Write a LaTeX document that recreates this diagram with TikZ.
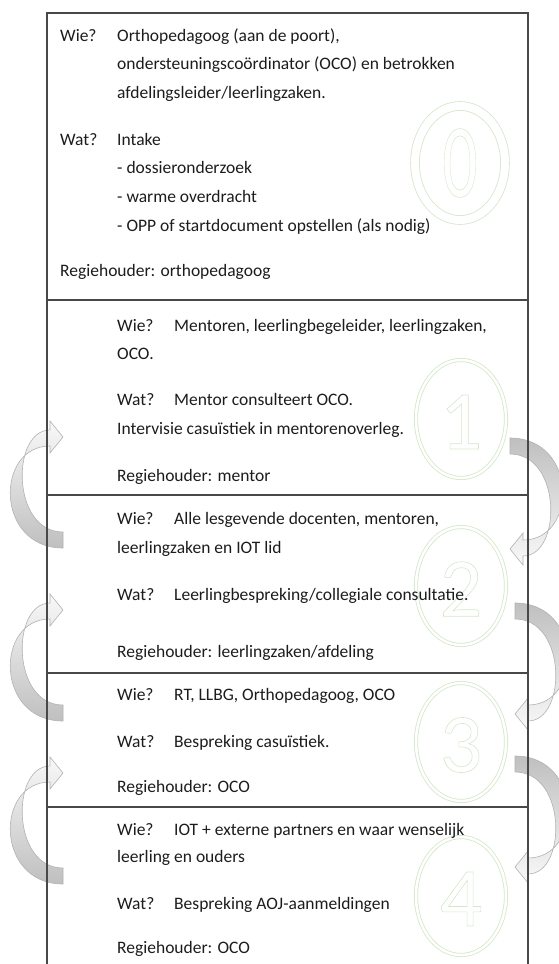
\documentclass[tikz,border=0pt]{standalone}
\usepackage{fontspec}
\setmainfont{Carlito}
\usetikzlibrary{positioning}

\definecolor{ringgreen}{RGB}{212,231,201}
\definecolor{linegray}{RGB}{72,72,72}
\definecolor{inkblack}{RGB}{28,28,28}

% hollow (stroked) glyphs for the step numbers
\newcommand{\hollow}[1]{\special{pdf:literal direct 1 Tr 0.6 w}#1\special{pdf:literal direct 0 Tr}}

\tikzset{
  pics/bendarrow/.style={code={
    \path[#1] (0,-103) -- (-13,-87) -- (-13,-94)
      .. controls (-68,-94) and (-68,8) .. (0,8) -- (0,-8)
      .. controls (-52,-8) and (-52,-110) .. (-13,-110)
      -- (-13,-119) -- cycle;
  }}
}

\begin{document}
\begin{tikzpicture}[x=1pt,y=-1pt,
  txt/.style={anchor=base west,inner sep=0pt,text=inkblack,font=\fontsize{17.5}{29}\selectfont},
  ring/.style={draw=ringgreen,line width=0.8pt,double=white,double distance=#1},
  digit/.style={inner sep=0pt,text=ringgreen,font=\fontsize{84}{84}\selectfont},
  upbend/.style={draw=gray!60,line width=0.6pt,top color=gray!5,middle color=gray!15,bottom color=gray!50},
  downbend/.style={draw=gray!60,line width=0.6pt,top color=gray!50,middle color=gray!15,bottom color=gray!5},
  rule/.style={draw=linegray,line width=1.2pt}]
\useasboundingbox (0,0) rectangle (558,964);

% step numbers in the background
\draw[ring=8pt] (460,163) ellipse [x radius=45, y radius=57];
\node[digit,font=\fontsize{105}{105}\selectfont] (n0) at (460,163) {\hollow{\scalebox{0.66}[1]{0}}};
\draw[ring=2.5pt] (461,419) ellipse [x radius=45, y radius=59];
\node[digit] (n1) at (461,422) {\hollow{1}};
\draw[ring=2.5pt] (461,586) ellipse [x radius=45, y radius=59];
\node[digit] (n2) at (461,589) {\hollow{2}};
\draw[ring=2.5pt] (461,742) ellipse [x radius=45, y radius=59];
\node[digit] (n3) at (461,745) {\hollow{3}};
\draw[ring=2.5pt] (461,896) ellipse [x radius=45, y radius=59];
\node[digit] (n4) at (461,899) {\hollow{4}};

% arrows back up (left) and down (right)
\pic at (63,540) {bendarrow=upbend};
\pic at (63,713) {bendarrow=upbend};
\pic at (63,876) {bendarrow=upbend};
\pic[rotate=180] at (510,446) {bendarrow=downbend};
\pic[rotate=180] at (515,611) {bendarrow=downbend};
\pic[rotate=180] at (515,764) {bendarrow=downbend};

% frame
\draw[rule] (47,964) -- (47,13) -- (528,13) -- (528,964);
\draw[rule] (47,300) -- (528,300);
\draw[rule] (47,495) -- (528,495);
\draw[rule] (47,673) -- (528,673);
\draw[rule] (47,807) -- (528,807);

% box 0
\node[txt] (wie0) at (60,41) {Wie?};
\node[txt] (who0) at (117,41) {Orthopedagoog (aan de poort),};
\node[txt] (who0b) at (117,69) {ondersteuningscoördinator (OCO) en betrokken};
\node[txt] (who0c) at (117,98) {afdelingsleider/leerlingzaken.};
\node[txt] (wat0) at (60,145) {Wat?};
\node[txt] (what0) at (117,145) {Intake};
\node[txt] (what0b) at (117,173) {- dossieronderzoek};
\node[txt] (what0c) at (117,202) {- warme overdracht};
\node[txt] (what0d) at (117,231) {- OPP of startdocument opstellen (als nodig)};
\node[txt] (regie0) at (60,276) {Regiehouder: orthopedagoog};

% box 1
\node[txt] (wie1) at (117,331) {Wie?};
\node[txt] (who1) at (174,331) {Mentoren, leerlingbegeleider, leerlingzaken,};
\node[txt] (who1b) at (117,359) {OCO.};
\node[txt] (wat1) at (117,405) {Wat?};
\node[txt] (what1) at (174,405) {Mentor consulteert OCO.};
\node[txt] (what1b) at (117,434) {Intervisie casuïstiek in mentorenoverleg.};
\node[txt] (regie1) at (117,481) {Regiehouder: mentor};

% box 2
\node[txt] (wie2) at (117,524) {Wie?};
\node[txt] (who2) at (174,524) {Alle lesgevende docenten, mentoren,};
\node[txt] (who2b) at (117,553) {leerlingzaken en IOT lid};
\node[txt] (wat2) at (117,600) {Wat?};
\node[txt] (what2) at (174,600) {Leerlingbespreking/collegiale consultatie.};
\node[txt] (regie2) at (117,657) {Regiehouder: leerlingzaken/afdeling};

% box 3
\node[txt] (wie3) at (117,700) {Wie?};
\node[txt] (who3) at (174,700) {RT, LLBG, Orthopedagoog, OCO};
\node[txt] (wat3) at (117,747) {Wat?};
\node[txt] (what3) at (174,747) {Bespreking casuïstiek.};
\node[txt] (regie3) at (117,792) {Regiehouder: OCO};

% box 4
\node[txt] (wie4) at (117,835) {Wie?};
\node[txt] (who4) at (174,835) {IOT + externe partners en waar wenselijk};
\node[txt] (who4b) at (117,862) {leerling en ouders};
\node[txt] (wat4) at (117,909) {Wat?};
\node[txt] (what4) at (174,909) {Bespreking AOJ-aanmeldingen};
\node[txt] (regie4) at (117,953) {Regiehouder: OCO};
\end{tikzpicture}
\end{document}
